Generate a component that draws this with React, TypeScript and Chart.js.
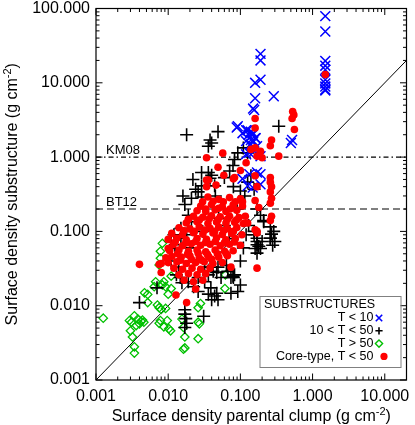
import React, { useEffect, useRef } from "react";
import { Chart, registerables } from "chart.js";

Chart.register(...registerables);

const FONT = "'Liberation Sans', Arial, Helvetica, sans-serif";

// ---- axes ----
const xRange = [0.001, 20];
const yRange = [0.001, 100];
const xTickValues = [0.001, 0.01, 0.1, 1, 10];
const yTickValues = [0.001, 0.01, 0.1, 1, 10, 100];
const xTitleParts = ["Surface density parental clump (g cm", "-2", ")"];
const yTitleParts = ["Surface density substructure (g cm", "-2", ")"];

// ---- reference lines ----
const refValues = [1.0, 0.2];
const refLabels = ["KM08", "BT12"];
const diagonalX = [0.001, 20];

// ---- legend ----
const legendTitle = "SUBSTRUCTURES";
const legendLabels = ["T < 10", "10 < T < 50", "T > 50", "Core-type, T < 50"];

// ---- data: T < 10 (blue X) ----
const coldPoints: [number, number][] = [
  [1.5, 79], [1.5, 49], [1.5, 19.7], [1.5, 17], [1.5, 15], [1.5, 11], [1.5, 9.8], [1.5, 8.9], [1.5, 8.1], [1.5, 7.9],
  [0.19, 24.5], [0.19, 20], [0.19, 11], [0.16, 10], [0.16, 6.2], [0.29, 6.6], [0.15, 4.5], [0.155, 4.3],
  [0.089, 2.5], [0.12, 2.3], [0.14, 2.2], [0.15, 2.1], [0.13, 2.0], [0.16, 1.8], [0.14, 1.7], [0.15, 1.65], [0.52, 1.7],
  [0.092, 2.6], [0.107, 2.1], [0.126, 2.3], [0.148, 2.0], [0.163, 1.8], [0.12, 1.64], [0.14, 1.48], [0.17, 1.4],
  [0.155, 1.2], [0.133, 1.14], [0.19, 1.03], [0.12, 1.09], [0.5, 1.55],
  [0.133, 0.59], [0.126, 0.41], [0.148, 0.39], [0.19, 0.59], [0.107, 0.51], [0.17, 0.62], [0.19, 0.43],
];

// ---- data: 10 < T < 50 (black +) ----
const warmPoints: [number, number][] = [
  [0.018, 2.0], [0.049, 2.2], [0.036, 1.4], [0.04, 1.55], [0.038, 1.7], [0.34, 2.6], [0.092, 1.14], [0.083, 0.93],
  [0.079, 0.77], [0.071, 0.65], [0.029, 0.62], [0.036, 0.62], [0.04, 0.57], [0.038, 0.52], [0.024, 0.37], [0.026, 0.34],
  [0.029, 0.41], [0.044, 0.41], [0.06, 0.53], [0.021, 0.28], [0.029, 0.29], [0.017, 0.23], [0.019, 0.165], [0.021, 0.135],
  [0.015, 0.11], [0.018, 0.09], [0.015, 0.081], [0.011, 0.073], [0.0125, 0.059], [0.0125, 0.066], [0.012, 0.09],
  [0.011, 0.04], [0.014, 0.033], [0.032, 0.033], [0.036, 0.026], [0.047, 0.028], [0.079, 0.025],
  [0.14, 0.56], [0.126, 0.46], [0.155, 0.37], [0.11, 1.33], [0.126, 1.14],
  [0.17, 0.2], [0.19, 0.165], [0.21, 0.135], [0.155, 0.1], [0.17, 0.073], [0.16, 0.059],
  [0.21, 0.14], [0.26, 0.115], [0.29, 0.1], [0.26, 0.081], [0.3, 0.073], [0.19, 0.059], [0.155, 0.09], [0.27, 0.092], [0.28, 0.065],
  [0.004, 0.011], [0.007, 0.0174], [0.013, 0.026], [0.017, 0.0088], [0.017, 0.0077], [0.0175, 0.0067], [0.018, 0.0058],
  [0.017, 0.0051], [0.031, 0.0072], [0.074, 0.0147], [0.092, 0.0155], [0.1, 0.019], [0.08, 0.024], [0.17, 0.066],
  [0.18, 0.063], [0.2, 0.073], [0.26, 0.081], [0.17, 0.081], [0.17, 0.051],
  [0.039, 0.0174], [0.044, 0.0135], [0.036, 0.0143], [0.026, 0.0155], [0.0147, 0.024], [0.0155, 0.0204], [0.019, 0.021],
  [0.0225, 0.018], [0.026, 0.024], [0.032, 0.021], [0.042, 0.029], [0.049, 0.033], [0.054, 0.024], [0.047, 0.0147],
  [0.04, 0.012], [0.049, 0.012], [0.067, 0.029], [0.074, 0.024], [0.083, 0.026], [0.064, 0.035],
  [0.03, 0.1], [0.05, 0.15], [0.07, 0.08], [0.02, 0.06], [0.045, 0.3], [0.09, 0.2], [0.06, 0.12], [0.1, 0.04],
  [0.11, 0.06], [0.12, 0.09], [0.13, 0.12], [0.115, 0.3], [0.1, 0.35], [0.08, 0.4], [0.022, 0.5], [0.016, 0.3],
];

// ---- data: T > 50 (green diamonds) ----
const hotPoints: [number, number][] = [
  [0.00126, 0.0068], [0.0031, 0.006], [0.0034, 0.0073], [0.0036, 0.0054], [0.0042, 0.0062], [0.0044, 0.0064],
  [0.0046, 0.006], [0.003, 0.0046], [0.0032, 0.0038], [0.0034, 0.0028], [0.0034, 0.0023], [0.0052, 0.0142],
  [0.0047, 0.0149], [0.0052, 0.011], [0.0075, 0.0058], [0.0087, 0.0052], [0.0108, 0.0046], [0.0071, 0.0102],
  [0.0075, 0.0094], [0.0092, 0.0092], [0.008, 0.0089], [0.0067, 0.021], [0.0064, 0.018], [0.0092, 0.018],
  [0.01, 0.0143], [0.011, 0.025], [0.0075, 0.0354], [0.0078, 0.0436], [0.0078, 0.054], [0.0083, 0.069],
  [0.0078, 0.0063], [0.0097, 0.0063], [0.0102, 0.0049], [0.0083, 0.019], [0.0087, 0.021], [0.011, 0.017],
  [0.0155, 0.0066], [0.0163, 0.0051], [0.017, 0.0038], [0.0163, 0.0026], [0.017, 0.0027], [0.026, 0.0094],
  [0.026, 0.006], [0.027, 0.0057], [0.026, 0.0036], [0.061, 0.017], [0.028, 0.0107], [0.062, 0.026],
  [0.0038, 0.0066], [0.004, 0.0057], [0.0029, 0.0063],
];

// ---- data: Core-type, T < 50 (red dots) ----
const corePoints: [number, number][] = [
  [1.5, 12.9], [0.53, 4.1], [0.55, 3.7], [0.52, 3.3], [0.56, 2.35], [0.16, 3.3], [0.16, 2.46], [0.27, 1.7],
  [0.034, 0.98], [0.057, 1.13], [0.049, 0.73], [0.059, 0.57], [0.034, 0.49], [0.046, 0.42], [0.08, 0.51], [0.1, 0.66],
  [0.12, 0.84], [0.14, 1.27], [0.16, 1.33], [0.19, 1.2], [0.2, 0.98], [0.17, 1.03], [0.26, 1.42], [0.34, 1.03],
  [0.26, 0.53], [0.26, 0.46], [0.27, 0.4], [0.26, 0.34], [0.27, 0.28], [0.26, 0.24], [0.27, 0.16], [0.26, 0.14],
  [0.16, 0.56], [0.17, 0.4], [0.16, 0.26], [0.18, 0.21], [0.16, 0.105], [0.17, 0.1], [0.126, 0.13],
  [0.036, 0.49], [0.034, 0.4], [0.083, 0.53], [0.107, 0.25],
  [0.004, 0.036], [0.17, 0.032], [0.17, 0.095], [0.074, 0.033], [0.0128, 0.0139], [0.018, 0.011], [0.024, 0.0168],
  [0.008, 0.028], [0.008, 0.037], [0.0093, 0.044], [0.01, 0.059], [0.0075, 0.036],
  [0.0355, 0.29], [0.0501, 0.27], [0.0708, 0.285], [0.1, 0.275],
  [0.0282, 0.22], [0.0398, 0.23], [0.0562, 0.215], [0.0794, 0.228], [0.107, 0.22],
  [0.0251, 0.19], [0.0331, 0.185], [0.0447, 0.195], [0.0631, 0.186], [0.0891, 0.192],
  [0.0224, 0.16], [0.0302, 0.155], [0.0398, 0.162], [0.0525, 0.157], [0.0708, 0.16], [0.0955, 0.154], [0.117, 0.16],
  [0.0178, 0.13], [0.0251, 0.135], [0.0355, 0.128], [0.0468, 0.134], [0.0631, 0.13], [0.0832, 0.133], [0.11, 0.128],
  [0.0141, 0.112], [0.02, 0.108], [0.0269, 0.115], [0.038, 0.11], [0.0501, 0.114], [0.0661, 0.109], [0.0891, 0.113],
  [0.0112, 0.094], [0.0158, 0.09], [0.0224, 0.096], [0.0302, 0.092], [0.0417, 0.095], [0.0562, 0.091], [0.0759, 0.094], [0.105, 0.09],
  [0.01, 0.078], [0.0132, 0.081], [0.0178, 0.077], [0.0251, 0.08], [0.0339, 0.078], [0.0468, 0.082], [0.0631, 0.077], [0.0851, 0.08],
  [0.0117, 0.066], [0.0158, 0.064], [0.0209, 0.068], [0.0282, 0.065], [0.038, 0.067], [0.0525, 0.064], [0.0708, 0.067], [0.1, 0.065],
  [0.0105, 0.055], [0.0141, 0.056], [0.0191, 0.054], [0.0251, 0.056], [0.0331, 0.053], [0.0447, 0.056], [0.0603, 0.054], [0.0794, 0.055],
  [0.0112, 0.046], [0.0151, 0.045], [0.02, 0.047], [0.0269, 0.044], [0.0363, 0.046], [0.0501, 0.045], [0.0661, 0.047],
  [0.01, 0.038], [0.0132, 0.039], [0.0178, 0.037], [0.024, 0.038], [0.0316, 0.039], [0.0417, 0.037], [0.0562, 0.038],
  [0.012, 0.032], [0.0158, 0.031], [0.0214, 0.032], [0.0282, 0.031], [0.038, 0.032],
  [0.0141, 0.026], [0.0191, 0.027], [0.0251, 0.026], [0.0331, 0.027],
  [0.0166, 0.022], [0.0224, 0.021], [0.0302, 0.022],
  [0.019, 0.145], [0.027, 0.142], [0.037, 0.148], [0.049, 0.144], [0.066, 0.146], [0.088, 0.142],
  [0.0165, 0.102], [0.023, 0.1], [0.032, 0.104], [0.044, 0.1], [0.059, 0.103], [0.08, 0.1],
  [0.0125, 0.072], [0.0175, 0.07], [0.024, 0.073], [0.033, 0.071], [0.045, 0.073], [0.06, 0.07], [0.083, 0.072],
  [0.0135, 0.05], [0.0185, 0.049], [0.026, 0.051], [0.035, 0.049], [0.048, 0.05], [0.064, 0.05],
  [0.0148, 0.041], [0.021, 0.042], [0.029, 0.041], [0.04, 0.042],
  [0.03, 0.25], [0.042, 0.255], [0.058, 0.25], [0.085, 0.25],
  [0.033, 0.2], [0.05, 0.205], [0.072, 0.2],
];

const toXY = (pts: [number, number][]) => pts.map(([x, y]) => ({ x, y }));

function drawSupText(ctx: CanvasRenderingContext2D, parts: string[], cx: number, base: number) {
  const main = `16px ${FONT}`;
  const sup = `11px ${FONT}`;
  ctx.font = main;
  const w0 = ctx.measureText(parts[0]).width;
  const w2 = ctx.measureText(parts[2]).width;
  ctx.font = sup;
  const w1 = ctx.measureText(parts[1]).width;
  let x = cx - (w0 + w1 + w2) / 2;
  ctx.textAlign = "left";
  ctx.textBaseline = "alphabetic";
  ctx.fillStyle = "#000";
  ctx.font = main;
  ctx.fillText(parts[0], x, base);
  x += w0;
  ctx.font = sup;
  ctx.fillText(parts[1], x, base - 6);
  x += w1;
  ctx.font = main;
  ctx.fillText(parts[2], x, base);
}

function drawLegendMarker(ctx: CanvasRenderingContext2D, i: number, x: number, y: number) {
  ctx.save();
  ctx.setLineDash([]);
  if (i === 0) {
    ctx.strokeStyle = "#0000ff";
    ctx.lineWidth = 1.6;
    const r = 3.2;
    ctx.beginPath();
    ctx.moveTo(x - r, y - r); ctx.lineTo(x + r, y + r);
    ctx.moveTo(x - r, y + r); ctx.lineTo(x + r, y - r);
    ctx.stroke();
  } else if (i === 1) {
    ctx.strokeStyle = "#000";
    ctx.lineWidth = 1.6;
    const r = 3.6;
    ctx.beginPath();
    ctx.moveTo(x - r, y); ctx.lineTo(x + r, y);
    ctx.moveTo(x, y - r); ctx.lineTo(x, y + r);
    ctx.stroke();
  } else if (i === 2) {
    ctx.strokeStyle = "#00c000";
    ctx.lineWidth = 1.4;
    const r = 3.6;
    ctx.beginPath();
    ctx.moveTo(x, y - r); ctx.lineTo(x + r, y); ctx.lineTo(x, y + r); ctx.lineTo(x - r, y);
    ctx.closePath();
    ctx.stroke();
  } else {
    ctx.fillStyle = "#ff0000";
    ctx.beginPath();
    ctx.arc(x, y, 3.6, 0, Math.PI * 2);
    ctx.fill();
  }
  ctx.restore();
}

const decorPlugin = {
  id: "decor",
  beforeDatasetsDraw(chart: any) {
    const { ctx, chartArea: a, scales } = chart;
    ctx.save();
    ctx.strokeStyle = "#000";
    ctx.lineWidth = 1.1;
    refValues.forEach((v, i) => {
      const py = scales.y.getPixelForValue(v);
      ctx.setLineDash(i === 0 ? [5, 3, 1.5, 3] : [7, 4]);
      ctx.beginPath();
      ctx.moveTo(a.left, py);
      ctx.lineTo(a.right, py);
      ctx.stroke();
      ctx.setLineDash([]);
      ctx.fillStyle = "#000";
      ctx.font = `13px ${FONT}`;
      ctx.textAlign = "left";
      ctx.textBaseline = "alphabetic";
      ctx.fillText(refLabels[i], a.left + 10, py - 3.5);
    });
    ctx.restore();
  },
  afterDraw(chart: any) {
    const { ctx, chartArea: a, scales } = chart;
    const xs = scales.x;
    const ys = scales.y;
    ctx.save();
    // frame
    ctx.strokeStyle = "#000";
    ctx.lineWidth = 1.2;
    ctx.strokeRect(a.left, a.top, a.right - a.left, a.bottom - a.top);
    // inward ticks
    ctx.lineWidth = 1;
    ctx.beginPath();
    for (let e = -3; e <= 2; e++) {
      for (let m = 1; m <= 9; m++) {
        const v = m * Math.pow(10, e);
        const len = m === 1 ? 6.5 : 3.5;
        if (v >= xRange[0] && v <= xRange[1]) {
          const px = xs.getPixelForValue(v);
          ctx.moveTo(px, a.bottom); ctx.lineTo(px, a.bottom - len);
          ctx.moveTo(px, a.top); ctx.lineTo(px, a.top + len);
        }
        if (v >= yRange[0] && v <= yRange[1]) {
          const py = ys.getPixelForValue(v);
          ctx.moveTo(a.left, py); ctx.lineTo(a.left + len, py);
          ctx.moveTo(a.right, py); ctx.lineTo(a.right - len, py);
        }
      }
    }
    ctx.stroke();
    // axis titles
    drawSupText(ctx, xTitleParts, (a.left + a.right) / 2, 421);
    ctx.save();
    ctx.translate(16.5, (a.top + a.bottom) / 2);
    ctx.rotate(-Math.PI / 2);
    drawSupText(ctx, yTitleParts, 0, 0);
    ctx.restore();
    // legend
    const bx = a.right - 147;
    const by = a.bottom - 84;
    const bw = 141;
    const bh = 71;
    ctx.fillStyle = "#fff";
    ctx.fillRect(bx, by, bw, bh);
    ctx.strokeStyle = "#808080";
    ctx.lineWidth = 1;
    ctx.strokeRect(bx + 0.5, by + 0.5, bw, bh);
    ctx.fillStyle = "#000";
    ctx.font = `12.5px ${FONT}`;
    ctx.textBaseline = "middle";
    ctx.textAlign = "left";
    ctx.fillText(legendTitle, bx + 4.5, by + 9);
    legendLabels.forEach((t, i) => {
      const cy = by + 22 + i * 12.8;
      ctx.fillStyle = "#000";
      ctx.font = `12.5px ${FONT}`;
      ctx.textAlign = "right";
      ctx.textBaseline = "middle";
      ctx.fillText(t, bx + 114, cy);
      drawLegendMarker(ctx, i, i === 3 ? bx + 124.5 : bx + 119.5, cy);
    });
    ctx.restore();
  },
};

export default function App() {
  const ref = useRef<HTMLCanvasElement>(null);
  useEffect(() => {
    const canvas = ref.current;
    if (!canvas) return;
    const chart = new Chart(canvas, {
      type: "scatter",
      data: {
        datasets: [
          {
            label: legendLabels[3],
            data: toXY(corePoints),
            pointStyle: "circle",
            pointRadius: 3.8,
            backgroundColor: "#ff0000",
            borderWidth: 0,
            order: 0,
          },
          {
            label: legendLabels[0],
            data: toXY(coldPoints),
            pointStyle: "crossRot",
            pointRadius: 7,
            borderColor: "#0000ff",
            backgroundColor: "#0000ff",
            borderWidth: 1.5,
            order: 1,
          },
          {
            label: legendLabels[1],
            data: toXY(warmPoints),
            pointStyle: "cross",
            pointRadius: 6.5,
            borderColor: "#000",
            backgroundColor: "#000",
            borderWidth: 1.6,
            order: 2,
          },
          {
            label: legendLabels[2],
            data: toXY(hotPoints),
            pointStyle: "rectRot",
            pointRadius: 4.2,
            borderColor: "#00c000",
            backgroundColor: "rgba(0,0,0,0)",
            borderWidth: 1.3,
            order: 3,
          },
          {
            label: "y = x",
            data: diagonalX.map((v) => ({ x: v, y: v })),
            showLine: true,
            pointRadius: 0,
            borderColor: "#000",
            borderWidth: 1,
            order: 4,
          } as any,
        ],
      },
      options: {
        responsive: false,
        animation: false,
        devicePixelRatio: 1,
        events: [],
        layout: { padding: { left: 0, right: 5, top: 4, bottom: 0 } },
        plugins: { legend: { display: false }, tooltip: { enabled: false } },
        scales: {
          x: {
            type: "logarithmic",
            min: xRange[0],
            max: xRange[1],
            grid: { display: false, drawTicks: false },
            border: { display: false },
            afterBuildTicks: (s: any) => {
              s.ticks = xTickValues.map((v) => ({ value: v }));
            },
            afterFit: (s: any) => {
              s.height = 45;
              s.paddingLeft = 0;
              s.paddingRight = 0;
            },
            ticks: {
              autoSkip: false,
              maxRotation: 0,
              padding: 7,
              color: "#000",
              font: { family: FONT, size: 16 },
              callback: (v: any) => Number(v).toFixed(3),
            },
          },
          y: {
            type: "logarithmic",
            min: yRange[0],
            max: yRange[1],
            grid: { display: false, drawTicks: false },
            border: { display: false },
            afterBuildTicks: (s: any) => {
              s.ticks = yTickValues.map((v) => ({ value: v }));
            },
            afterFit: (s: any) => {
              s.width = 96;
              s.paddingTop = 0;
              s.paddingBottom = 0;
            },
            ticks: {
              autoSkip: false,
              padding: 6,
              color: "#000",
              font: { family: FONT, size: 16 },
              callback: (v: any) => Number(v).toFixed(3),
            },
          },
        },
      } as any,
      plugins: [decorPlugin],
    });
    return () => chart.destroy();
  }, []);
  return (
    <div style={{ position: "fixed", left: 0, top: 0, width: 415, height: 425, background: "#fff" }}>
      <canvas ref={ref} width={415} height={425} style={{ display: "block", width: 415, height: 425 }} />
    </div>
  );
}
